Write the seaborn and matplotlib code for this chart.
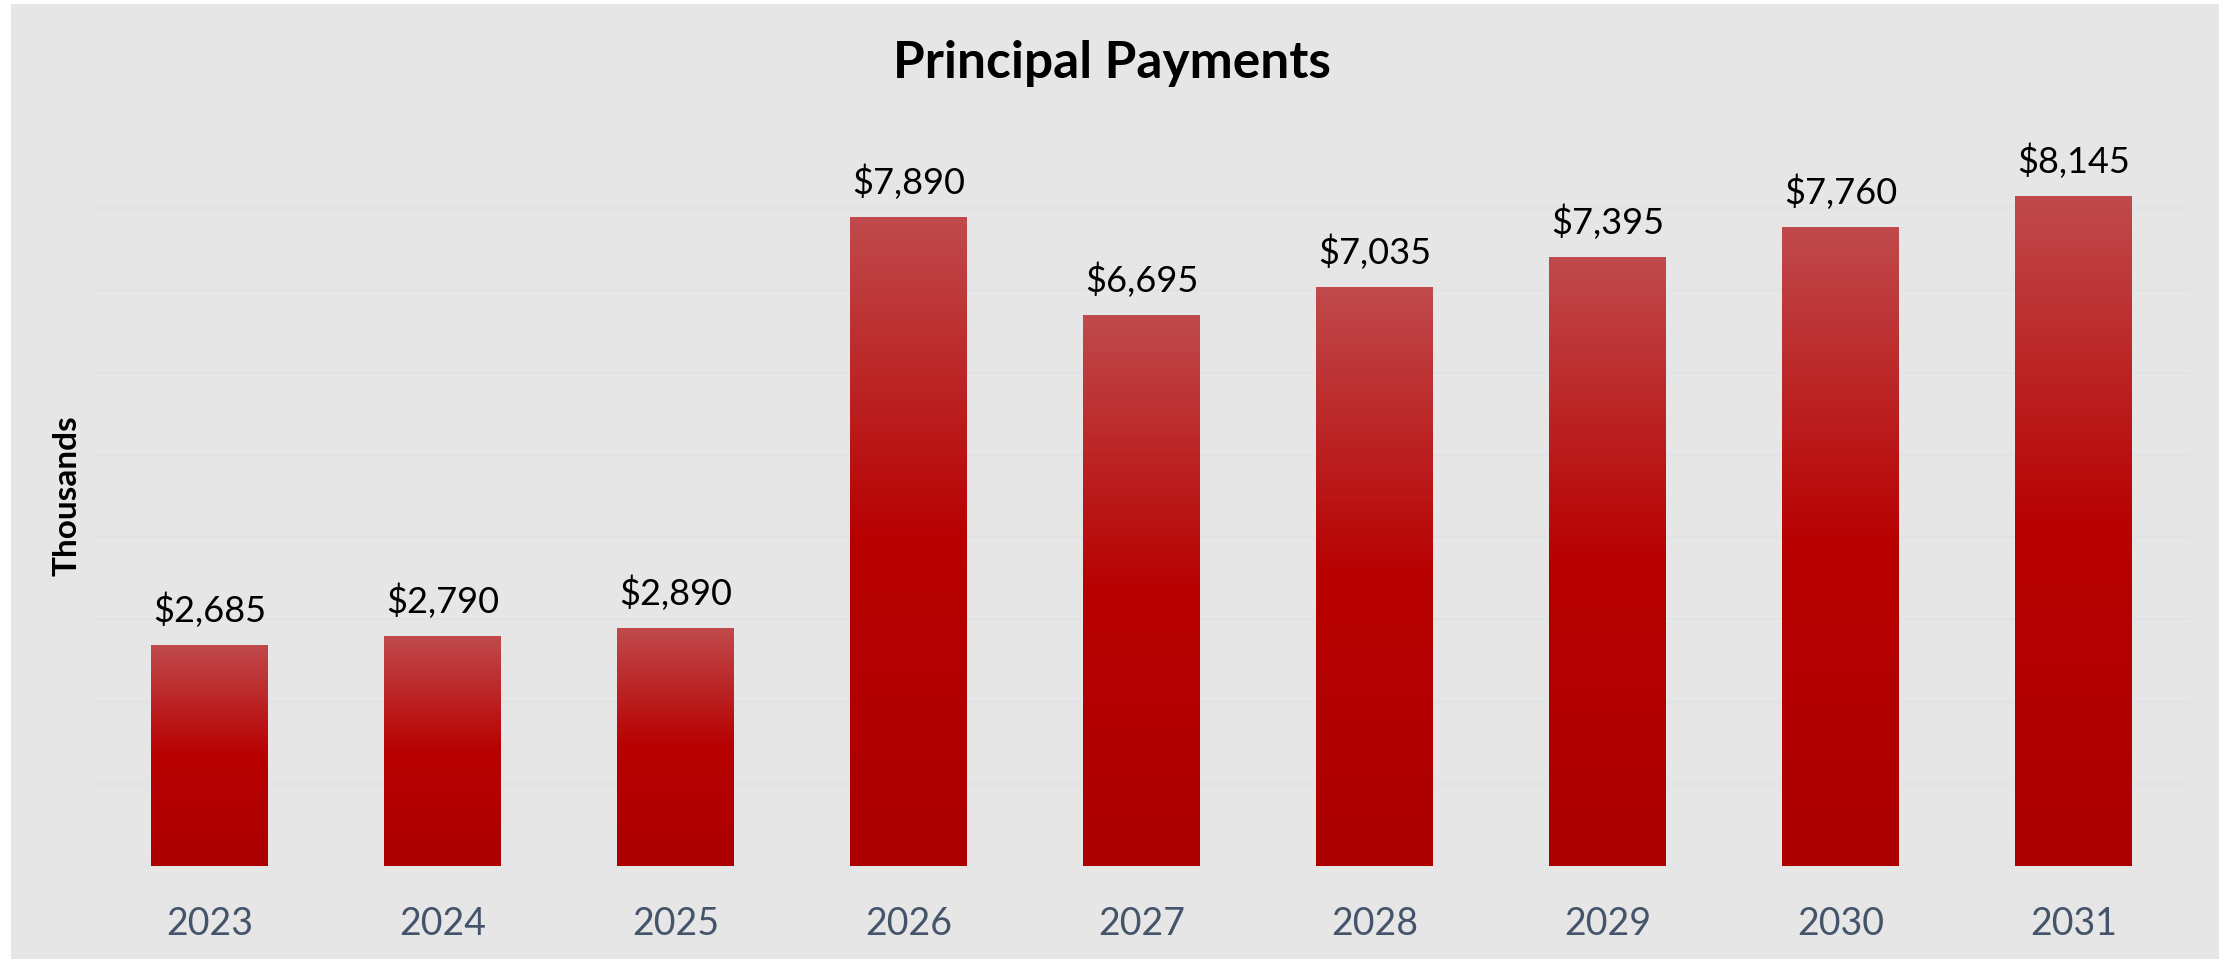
import numpy as np
import pandas as pd
import matplotlib
matplotlib.use("Agg")
import matplotlib.pyplot as plt
import seaborn as sns
from matplotlib.colors import LinearSegmentedColormap
from matplotlib.patches import Rectangle

# Principal payments by year (thousands of dollars)
years = ["2023", "2024", "2025", "2026", "2027", "2028", "2029", "2030", "2031"]
payments = [2685, 2790, 2890, 7890, 6695, 7035, 7395, 7760, 8145]
value_labels = [f"${v:,}" for v in payments]

sns.set_theme(style="white")
plt.rcParams["font.family"] = ["Lato", "DejaVu Sans"]

W, H = 2224, 959
fig = plt.figure(figsize=(W / 100, H / 100), dpi=100)
fig.patch.set_facecolor("white")
fig.add_artist(Rectangle((11 / W, 0), 2208 / W, 955 / H, transform=fig.transFigure,
                         facecolor="#e6e6e6", edgecolor="none", zorder=0))

ax = fig.add_axes([93 / W, 1 - 866 / H, (2190 - 93) / W, (866 - 126) / H])
ax.set_facecolor("none")

df = pd.DataFrame({"Year": years, "Payment": payments})
sns.barplot(data=df, x="Year", y="Payment", ax=ax, width=0.5, color="#c00000",
            saturation=1, errorbar=None)

# vertical gradient fill for each bar
cmap = LinearSegmentedColormap.from_list(
    "bar", [(0.0, "#ac0000"), (0.5, "#b80000"), (1.0, "#c04a4c")])
grad = np.linspace(0, 1, 256).reshape(-1, 1)
for p in list(ax.patches):
    x0, y0 = p.get_x(), p.get_y()
    w, h = p.get_width(), p.get_height()
    ax.imshow(grad, cmap=cmap, origin="lower", extent=[x0, x0 + w, y0, y0 + h],
              aspect="auto", interpolation="bilinear", zorder=3)
    p.set_facecolor("none")
    p.set_edgecolor("none")

ax.set_xlim(-0.5, 8.5)
ax.set_ylim(0, 9000)
ax.set_yticks(range(0, 9001, 1000))
ax.yaxis.grid(True, color="#dee3e9", lw=1.2)
ax.set_axisbelow(True)
ax.tick_params(axis="y", left=False, labelleft=False)
ax.tick_params(axis="x", bottom=False, length=0, pad=29, labelsize=27,
               labelcolor="#44546a")
for s in ax.spines.values():
    s.set_visible(False)
ax.set_xlabel("")
ax.set_ylabel("")

for i, (v, lab) in enumerate(zip(payments, value_labels)):
    ax.annotate(lab, (i, v), xytext=(0, 17), textcoords="offset points",
                ha="center", va="baseline", fontsize=26, color="black", zorder=5)

fig.text(0.5, 1 - 78 / H, "Principal Payments", ha="center", va="baseline",
         fontsize=37, fontweight="bold", color="black")
fig.text(67 / W, 1 - 496 / H, "Thousands", ha="center", va="center", rotation=90,
         fontsize=24, fontweight="bold", color="black")

fig.savefig("out.png", dpi=100, facecolor=fig.get_facecolor())
